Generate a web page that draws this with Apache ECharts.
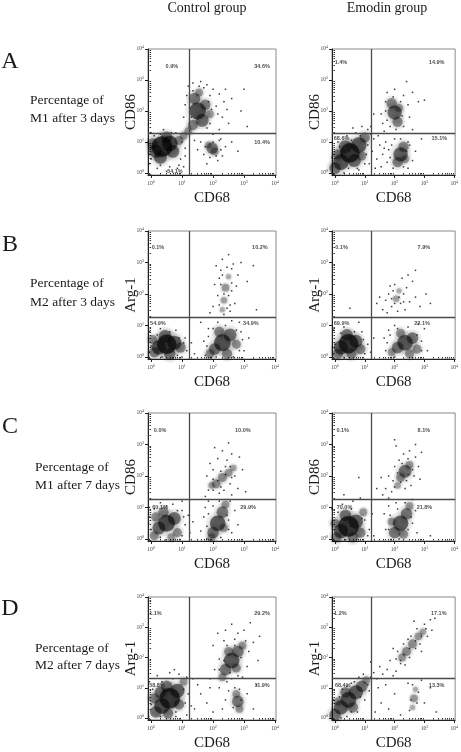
<!DOCTYPE html>
<html><head><meta charset="utf-8">
<script src="https://cdn.jsdelivr.net/npm/echarts@6/dist/echarts.min.js"></script>
<style>html,body{margin:0;padding:0;background:#fff}#c{width:461px;height:752px}</style>
</head><body><div id="c"></div>
<script>
// ---------- text ----------
const columnTitles = ['Control group', 'Emodin group'];
const rowLetters = ['A', 'B', 'C', 'D'];
const rowCaptions = [
  ['Percentage of', 'M1 after 3 days'],
  ['Percentage of', 'M2 after 3 days'],
  ['Percentage of', 'M1 after 7 days'],
  ['Percentage of', 'M2 after 7 days']
];
const yMarkers = ['CD86', 'Arg-1', 'CD86', 'Arg-1'];
const xMarker = 'CD68';
const tickExponents = [0, 1, 2, 3, 4];

// ---------- gates (log10 fluorescence) ----------
const gateX = [1.22, 1.22, 1.22, 1.22];
const gateY = [1.29, 1.25, 1.27, 1.30];

// ---------- quadrant percentages: UL, UR, LL, LR ----------
const ctrlA_pct = ['0.9%', '34.6%', '54.1%', '10.4%'];
const emoA_pct  = ['1.4%', '14.9%', '68.6%', '15.1%'];
const ctrlB_pct = ['0.1%', '10.2%', '54.9%', '34.9%'];
const emoB_pct  = ['0.1%', '7.9%', '69.9%', '22.1%'];
const ctrlC_pct = ['0.0%', '10.0%', '60.1%', '29.9%'];
const emoC_pct  = ['0.1%', '8.1%', '70.0%', '21.8%'];
const ctrlD_pct = ['1.1%', '29.2%', '58.8%', '11.9%'];
const emoD_pct  = ['1.2%', '17.1%', '68.4%', '13.3%'];

// ---------- events (log10 CD68, log10 marker[, density weight]) ----------
const ctrlA_core = [[0.35,0.85,16],[0.15,0.7,10],[0.6,0.95,12],[0.3,0.5,10],[0.7,0.7,10],[0.5,1.15,9],[0.05,0.95,8],[0.9,1.05,7],
  [1.05,1.2,6],[1.2,1.35,6],
  [1.5,2.0,13],[1.4,2.4,9],[1.65,1.7,10],[1.35,1.55,8],[1.75,2.2,8],[1.55,2.6,6],[1.9,1.9,6],
  [1.97,0.8,9],[2.05,0.7,6],[1.85,0.9,5]];
const ctrlA_dots = [[1.2,2.8],[1.35,2.9],[1.6,2.95],[1.8,2.85],[2.0,2.7],[2.2,2.55],[2.35,2.3],[2.45,2.05],[2.3,1.8],[2.5,1.6],[2.2,1.4],[2.0,1.25],[1.1,2.2],[1.05,1.8],[1.15,2.5],[1.9,2.5],[2.1,2.15],[1.7,2.75],[2.6,2.4],[2.4,2.7],
  [1.6,1.0],[1.7,0.6],[2.2,1.05],[2.3,0.55],[2.15,0.4],[1.8,0.3],[2.4,0.85],[2.6,1.0],[1.5,0.75],[1.4,1.05],
  [-0.05,0.3],[0.0,1.3],[0.2,0.15],[0.6,0.2],[0.95,0.45],[1.1,0.8],[0.8,1.3],[0.4,1.4],[-0.05,0.6],[1.05,0.2],[0.5,0.05],[0.85,0.15],
  [2.9,2.0],[3.1,1.5],[2.8,0.7],[3.0,2.7],
  [0.1,1.2],[0.3,1.25],[0.65,1.3],[1.0,1.0],[1.1,0.55],[0.9,0.25],[0.3,0.25],[0.0,0.45],[-0.07,0.8],[1.25,1.5],[1.3,1.8],[1.25,2.1],[1.35,2.65],[1.55,2.8],[1.85,2.3],[1.95,2.05],[1.9,1.6],[1.8,1.45],[2.15,1.9],[2.25,1.1],[2.25,0.75],[1.75,0.85],[1.9,0.5],[2.1,0.55],[2.0,1.0]];

const emoA_core = [[0.5,0.65,15],[0.2,0.35,12],[0.8,0.9,12],[0.0,0.15,9],[1.0,1.15,8],[0.35,0.85,10],[0.65,0.4,10],[0.1,0.6,8],[0.9,0.55,7],
  [2.0,1.95,11],[1.9,2.25,8],[2.1,1.65,8],[2.15,2.1,6],
  [2.2,0.6,11],[2.3,0.85,8],[2.1,0.35,8],[2.35,0.45,6]];
const emoA_dots = [[1.15,0.3],[1.25,0.7],[1.3,1.1],[1.4,0.45],[1.5,0.9],[1.55,0.2],[1.6,0.6],[1.7,1.0],[1.75,0.35],[1.35,0.15],[1.2,1.25],[1.45,1.2],[1.65,1.35],[1.8,0.75],
  [1.6,1.6],[1.7,2.3],[1.75,2.6],[2.3,2.5],[2.45,2.2],[2.5,1.8],[1.55,1.9],[1.85,1.5],[2.3,1.5],[2.6,2.6],[2.8,2.3],[3.0,2.35],[2.6,1.4],[1.3,1.9],[1.2,1.5],[2.0,2.7],[2.4,2.95],
  [2.5,0.9],[2.6,0.4],[2.45,0.15],[1.95,0.15],[2.7,0.7],[2.9,1.1],[2.0,1.1],
  [-0.1,0.5],[0.1,1.0],[0.4,1.2],[0.7,1.3],[1.0,0.3],[0.8,0.1],[-0.05,-0.02],[0.3,0.0],[1.1,1.4],[0.9,1.5],[0.6,1.45],
  [-0.08,0.2],[0.15,0.85],[0.55,1.05],[0.85,1.2],[1.1,0.9],[1.05,0.6],[0.75,0.15],[0.45,0.15],[1.7,2.0],[1.75,1.7],[2.25,1.85],[2.2,2.3],[1.95,2.45],[2.05,1.4],[1.85,0.5],[1.9,0.9],[2.4,0.7],[2.45,1.0],[2.2,1.1],[2.3,0.2],[1.65,0.8]];

const ctrlB_core = [[0.5,0.4,15],[0.25,0.3,11],[0.75,0.45,11],[0.45,0.65,10],[0.1,0.15,8],[0.95,0.3,8],[0.6,0.1,9],[0.05,0.55,7],
  [2.3,0.45,13],[2.05,0.25,9],[2.55,0.7,10],[2.2,0.8,8],[2.75,0.4,7],[1.9,0.1,7],[2.45,0.1,8],
  [2.4,2.2,6],[2.35,1.8,5],[2.5,2.55,4],[2.3,1.5,4]];
const ctrlB_dots = [[2.1,2.9],[2.3,3.1],[2.5,3.25],[2.65,2.95],[2.8,2.6],[2.2,2.5],[2.6,2.1],[2.15,1.95],[2.7,1.7],[2.55,1.45],[2.0,1.6],[2.25,2.75],[2.45,2.85],[2.9,3.0],[3.1,2.4],[2.05,2.3],[2.6,2.35],[2.75,2.25],[2.35,1.35],[2.5,1.95],[2.2,1.65],
  [1.7,0.5],[1.75,0.05],[2.9,0.8],[3.0,0.2],[3.15,0.6],[2.85,1.1],[2.6,1.15],[1.85,0.9],[2.95,0.55],[2.15,1.1],
  [-0.05,0.8],[0.3,0.9],[0.8,0.85],[1.1,0.6],[1.15,0.2],[1.3,0.45],[1.0,0.0],[-0.08,0.0],[0.7,-0.03],[1.4,0.1],
  [1.6,1.1],[3.3,2.9],[3.4,1.5],[1.9,1.4],
  [0.0,0.35],[0.2,0.7],[0.6,0.8],[0.9,0.6],[1.05,0.45],[0.85,0.05],[0.35,0.0],[-0.05,0.15],[1.8,0.35],[1.85,0.65],[2.0,0.9],[2.4,1.0],[2.75,0.85],[2.85,0.2],[2.65,0.0],[2.1,0.0],[2.35,2.0],[2.25,2.3],[2.55,1.65],[2.45,1.55],[2.3,2.6],[2.6,2.8]];

const emoB_core = [[0.45,0.42,15],[0.2,0.3,11],[0.7,0.5,10],[0.4,0.7,9],[0.1,0.1,8],[0.85,0.25,8],[0.55,0.1,8],
  [2.35,0.45,12],[2.1,0.3,9],[2.6,0.6,9],[2.2,0.75,7],[2.75,0.25,7],[1.9,0.15,6],[2.5,0.1,7],
  [2.05,1.85,5],[2.15,2.1,4]];
const emoB_dots = [[1.6,1.5],[1.7,1.8],[1.8,2.0],[1.9,1.6],[2.0,2.3],[2.2,1.7],[2.3,2.0],[2.4,2.2],[2.5,1.75],[2.6,2.4],[2.7,1.9],[1.85,2.25],[2.25,2.5],[2.45,2.6],[1.75,1.4],[2.1,1.45],[2.35,1.5],[2.85,1.6],[3.05,2.0],[3.2,1.7],[1.5,1.9],[1.95,2.1],
  [1.65,0.6],[1.7,0.2],[2.0,1.0],[2.9,0.5],[3.0,0.9],[3.1,0.2],[2.8,1.05],[1.8,0.85],
  [-0.05,0.85],[0.3,0.95],[0.9,0.8],[1.1,0.4],[1.2,0.15],[0.8,1.1],[-0.08,0.3],[1.3,0.6],
  [1.4,1.7],[0.5,1.55],[2.7,2.75],
  [0.0,0.4],[0.2,0.75],[0.65,0.8],[0.95,0.55],[1.0,0.1],[0.3,-0.02],[-0.05,0.1],[1.75,0.45],[1.85,0.7],[2.1,0.9],[2.45,0.95],[2.75,0.7],[2.9,0.2],[2.6,-0.02],[2.0,0.0],[2.0,1.7],[2.15,1.9],[1.9,1.85],[2.3,1.75]];

const ctrlC_core = [[0.5,0.5,13],[0.25,0.35,10],[0.75,0.65,10],[0.4,0.85,8],[0.1,0.1,7],[0.85,0.2,7],[0.15,0.7,7],[0.65,0.05,6],
  [2.15,0.5,12],[2.0,0.2,9],[2.3,0.85,9],[2.4,1.1,6],[1.95,0.05,6],[2.35,0.35,6],
  [2.1,1.75,7],[2.3,1.95,7],[2.5,2.1,6],[2.65,2.25,5],[1.95,1.7,5]];
const ctrlC_dots = [[1.8,2.0],[1.9,2.4],[2.0,2.2],[2.15,2.55],[2.3,2.8],[2.45,2.5],[2.6,2.7],[2.7,2.0],[2.55,1.75],[2.35,1.55],[2.2,1.45],[1.85,1.55],[2.05,2.9],[2.5,3.05],[2.8,1.6],[2.95,2.2],[3.05,1.5],[2.4,2.3],[1.75,1.35],[2.0,1.9],[2.25,2.15],[2.6,1.4],[2.85,2.6],
  [1.7,0.7],[1.75,1.0],[2.5,0.6],[2.6,0.2],[2.7,0.9],[1.85,1.2],[2.55,1.2],[2.8,0.45],[1.6,0.25],
  [-0.05,1.0],[0.3,1.15],[0.7,1.1],[1.0,0.9],[1.1,0.45],[1.25,0.2],[1.2,0.75],[0.45,-0.03],[-0.08,0.5],[1.35,0.55],[1.0,1.2],
  [0.0,0.3],[0.1,0.95],[0.5,1.05],[0.85,0.9],[1.05,0.7],[1.0,0.1],[0.3,0.05],[-0.05,0.7],[1.8,0.4],[1.85,0.8],[2.0,1.05],[2.2,1.2],[2.45,0.75],[2.5,0.3],[2.25,0.05],[1.8,0.0],[2.15,1.85],[2.25,1.65],[2.4,2.05],[2.0,1.55],[2.55,2.3],[2.6,1.95]];

const emoC_core = [[0.45,0.4,16],[0.2,0.25,11],[0.7,0.55,11],[0.35,0.75,9],[0.05,0.05,8],[0.85,0.2,8],[0.6,0.05,8],[0.0,0.5,7],[0.95,0.85,6],
  [2.2,0.5,12],[2.0,0.2,9],[2.4,0.8,9],[2.5,1.05,6],[2.3,0.15,7],[1.9,0.55,6],
  [2.35,2.15,10],[2.2,1.95,7],[2.5,2.35,6],[2.1,1.7,5]];
const emoC_dots = [[1.7,1.6],[1.8,2.0],[1.9,1.5],[2.0,2.3],[2.15,2.5],[2.3,2.7],[2.5,2.8],[2.7,2.6],[2.8,2.3],[2.65,2.0],[2.55,1.7],[2.35,1.6],[2.85,1.9],[1.95,1.85],[2.1,2.1],[2.45,2.55],[2.7,3.0],[2.9,2.75],[1.55,1.95],[1.6,1.4],[2.05,2.95],[1.8,1.3],
  [1.65,0.8],[1.7,0.3],[2.6,0.5],[2.7,0.9],[2.75,0.2],[2.05,1.15],[2.6,1.25],[1.8,1.05],[3.2,0.1],
  [-0.1,0.95],[0.25,1.1],[0.6,1.2],[1.0,0.6],[1.15,0.3],[1.25,0.8],[1.3,0.1],[0.85,1.3],[0.3,1.4],
  [0.8,1.95],[2.0,3.15],[1.4,1.6],
  [-0.08,0.3],[0.1,0.85],[0.55,0.95],[0.9,0.65],[1.1,0.1],[0.35,-0.02],[1.8,0.3],[1.85,0.75],[2.1,0.95],[2.35,1.15],[2.55,0.7],[2.45,0.3],[2.15,0.0],[2.25,2.4],[2.45,2.05],[2.2,1.8],[2.4,1.85],[2.6,2.2],[2.0,1.65]];

const ctrlD_core = [[0.6,0.65,16],[0.35,0.4,12],[0.85,0.9,11],[0.5,1.05,9],[0.15,0.2,9],[0.9,0.45,8],[0.1,0.65,8],[1.05,1.2,6],[0.55,0.15,8],[0.3,0.85,9],
  [2.8,0.55,9],[2.75,0.8,6],[2.85,0.3,6],
  [2.6,1.9,12],[2.4,1.6,9],[2.8,2.2,9],[2.5,2.2,7],[2.75,1.65,7],[2.3,1.35,6],[2.95,2.4,6]];
const ctrlD_dots = [[2.0,2.4],[2.15,2.8],[2.4,2.9],[2.6,3.1],[2.8,2.8],[3.0,2.9],[3.15,2.2],[3.3,2.5],[3.1,1.7],[2.95,1.35],[2.6,1.3],[2.2,1.95],[2.05,1.6],[2.35,2.55],[2.7,2.6],[3.2,3.15],[3.45,1.9],[3.5,2.7],[1.9,1.3],[2.45,1.2],
  [1.4,0.3],[1.6,0.8],[1.8,0.5],[2.0,0.2],[2.2,1.0],[2.4,0.6],[1.5,1.1],[1.9,1.0],[2.3,0.3],[3.1,0.8],[3.3,0.3],[3.4,1.1],[2.5,0.9],
  [-0.05,1.2],[0.2,1.4],[0.6,1.5],[0.9,1.45],[1.2,0.8],[1.3,0.4],[1.15,0.1],[-0.08,0.05],[0.8,0.05],[1.35,1.3],[0.75,1.6],
  [0.0,0.45],[0.05,0.95],[0.35,1.2],[0.7,1.3],[1.05,0.95],[1.1,0.5],[0.8,0.2],[0.3,0.05],[1.15,1.35],[2.65,0.35],[2.9,0.6],[2.7,1.0],[2.85,0.95],[2.2,1.6],[2.35,1.9],[2.55,1.5],[2.9,2.0],[2.7,2.4],[3.05,2.55],[2.45,2.4],[2.8,1.4]];

const emoD_core = [[0.45,0.6,12],[0.2,0.35,11],[0.0,0.1,9],[0.7,0.85,11],[0.9,1.05,9],[0.35,0.85,8],[0.6,0.35,8],[1.05,1.25,6],[0.1,0.55,6],
  [2.6,2.45,7],[2.4,2.2,7],[2.8,2.7,6],[2.25,2.0,6],[2.95,2.85,5],
  [2.65,0.65,6],[2.7,0.95,4],[2.6,0.35,4]];
const emoD_dots = [[2.1,2.2],[2.2,1.8],[2.3,2.45],[2.5,2.0],[2.55,2.7],[2.7,2.3],[2.85,2.45],[2.75,2.95],[3.0,3.1],[3.1,2.7],[3.2,3.25],[2.45,2.6],[2.05,1.95],[2.35,1.75],[2.9,2.2],[3.25,2.9],[3.35,3.3],[2.65,3.2],[1.95,2.3],
  [1.3,1.5],[1.4,1.3],[1.5,1.7],[1.6,1.45],[1.75,1.6],[1.85,1.9],[1.45,1.0],[1.7,1.1],[1.95,1.4],[2.05,1.55],[1.2,1.85],[1.55,0.5],[1.8,0.3],[2.0,0.8],[2.2,0.1],[3.0,0.5],[3.2,1.0],[2.9,1.25],[3.4,0.2],[2.45,1.15],[1.35,0.2],
  [-0.05,0.6],[0.25,0.95],[0.55,1.15],[0.8,1.35],[1.0,0.6],[0.75,0.2],[1.15,0.9],[0.4,0.05],[0.95,1.45],
  [-0.08,0.3],[0.15,0.7],[0.4,1.05],[0.65,1.2],[0.85,0.7],[1.1,1.1],[0.55,0.2],[0.2,0.0],[1.2,1.35],[2.55,0.6],[2.75,0.5],[2.6,1.1],[2.8,0.85],[2.5,0.25],[2.3,2.1],[2.5,2.3],[2.7,2.55],[2.9,2.7],[2.2,1.9],[3.05,2.95]];

// ---------- layout (positions / styles only) ----------
const L = {
  colLeft: [148, 332], colWidth: [128, 127],
  rowTop: [49, 231, 413, 597], rowHeight: [126, 128, 128, 128],
  xRange: [-0.1, 4.03], yRange: [-0.065, 4],
  colTitleX: [207, 387], colTitleY: 8,
  letterX: 10, letterY: [62, 245, 427, 609],
  captionX: [30, 30, 35, 35], captionY: [[100, 118], [283, 302], [467, 485], [648, 665]],
  quadPos: [
    [[0.67,3.45],[3.58,3.45],[0.77,0.06],[3.58,0.97]],
    [[0.2,3.55],[3.41,3.55],[0.22,1.1],[3.5,1.1]],
    [[0.22,3.49],[3.51,3.49],[0.22,1.05],[3.22,1.05]],
    [[0.22,3.49],[2.98,3.49],[0.22,1.05],[2.92,1.05]],
    [[0.29,3.46],[2.96,3.46],[0.29,1.0],[3.13,1.0]],
    [[0.26,3.46],[2.98,3.46],[0.32,1.0],[3.0,1.0]],
    [[0.14,3.46],[3.58,3.46],[0.19,1.08],[3.58,1.08]],
    [[0.18,3.46],[3.48,3.46],[0.26,1.08],[3.41,1.08]]
  ]
};
const SERIF = '"Liberation Serif","DejaVu Serif",serif';

const plots = [
  {r:0,c:0,core:ctrlA_core,dots:ctrlA_dots,pct:ctrlA_pct},
  {r:0,c:1,core:emoA_core,dots:emoA_dots,pct:emoA_pct},
  {r:1,c:0,core:ctrlB_core,dots:ctrlB_dots,pct:ctrlB_pct},
  {r:1,c:1,core:emoB_core,dots:emoB_dots,pct:emoB_pct},
  {r:2,c:0,core:ctrlC_core,dots:ctrlC_dots,pct:ctrlC_pct},
  {r:2,c:1,core:emoC_core,dots:emoC_dots,pct:emoC_pct},
  {r:3,c:0,core:ctrlD_core,dots:ctrlD_dots,pct:ctrlD_pct},
  {r:3,c:1,core:emoD_core,dots:emoD_dots,pct:emoD_pct}
];

const minorTicks = [];
for (let d = -1; d < 4; d++) for (let k = 2; k <= 9; k++) {
  const v = d + Math.log10(k);
  if (v > L.xRange[0] && v < 4) minorTicks.push(v);
}
const labelRich = {
  b: {fontSize: 5.5, color: '#444', fontFamily: SERIF},
  s: {fontSize: 4, color: '#444', fontFamily: SERIF, verticalAlign: 'top', padding: [0, 0, 4, 0]}
};
const fmt = v => '{b|10}{s|' + Math.round(v) + '}';
// darker for denser populations
const coreColor = p => 'rgba(0,0,0,' + Math.min(0.8, 0.1 + p.value[2] * 0.045).toFixed(3) + ')';

const grid = [], xAxis = [], yAxis = [], series = [];
plots.forEach((p, i) => {
  grid.push({left: L.colLeft[p.c], width: L.colWidth[p.c], top: L.rowTop[p.r], height: L.rowHeight[p.r],
    show: true, borderColor: '#8a8a8a', borderWidth: 1, containLabel: false});
  xAxis.push({type: 'value', gridIndex: i, min: L.xRange[0], max: L.xRange[1],
    splitLine: {show: false},
    axisLine: {show: true, onZero: false, lineStyle: {color: '#222', width: 1}},
    axisTick: {show: true, customValues: tickExponents, length: 3, lineStyle: {color: '#222'}},
    axisLabel: {show: true, customValues: tickExponents, formatter: fmt, rich: labelRich, margin: 5},
    name: xMarker, nameLocation: 'middle', nameGap: 16,
    nameTextStyle: {fontFamily: SERIF, fontSize: 15, color: '#1a1a1a'}});
  yAxis.push({type: 'value', gridIndex: i, min: L.yRange[0], max: L.yRange[1],
    splitLine: {show: false},
    axisLine: {show: true, onZero: false, lineStyle: {color: '#222', width: 1}},
    axisTick: {show: true, customValues: tickExponents, length: 3, lineStyle: {color: '#222'}},
    axisLabel: {show: true, customValues: tickExponents, formatter: fmt, rich: labelRich, margin: 4},
    name: yMarkers[p.r], nameLocation: 'middle', nameGap: 9, nameMoveOverlap: false,
    nameTextStyle: {fontFamily: SERIF, fontSize: 15, color: '#1a1a1a'}});
  xAxis.push({type: 'value', gridIndex: i, min: L.xRange[0], max: L.xRange[1], position: 'bottom',
    splitLine: {show: false}, axisLine: {show: false},
    axisTick: {show: true, customValues: minorTicks, length: 1.5, lineStyle: {color: '#333'}},
    axisLabel: {show: false}});
  yAxis.push({type: 'value', gridIndex: i, min: L.yRange[0], max: L.yRange[1], position: 'left',
    splitLine: {show: false}, axisLine: {show: false},
    axisTick: {show: true, customValues: minorTicks.filter(v => v > L.yRange[0]), length: 1.5, lineStyle: {color: '#333'}},
    axisLabel: {show: false}});
  const xi = 2 * i, yi = 2 * i;
  series.push({type: 'scatter', xAxisIndex: xi, yAxisIndex: yi, data: p.core, silent: true,
    symbolSize: v => v[2] * 2.0,
    itemStyle: {color: 'rgba(0,0,0,0.07)', shadowBlur: 7, shadowColor: 'rgba(0,0,0,0.25)'}});
  series.push({type: 'scatter', xAxisIndex: xi, yAxisIndex: yi, data: p.core, silent: true,
    symbolSize: v => v[2] * 1.3,
    itemStyle: {color: coreColor, shadowBlur: 3, shadowColor: 'rgba(0,0,0,0.45)'}});
  series.push({type: 'scatter', xAxisIndex: xi, yAxisIndex: yi, data: p.dots, silent: true,
    symbol: 'rect', symbolSize: 1.5, itemStyle: {color: '#1a1a1a', opacity: 0.85},
    markLine: {silent: true, symbol: 'none', animation: false, label: {show: false},
      lineStyle: {color: '#4a4a4a', width: 1.3, type: 'solid'},
      data: [{xAxis: gateX[p.r]}, {yAxis: gateY[p.r]}]}});
  series.push({type: 'scatter', xAxisIndex: xi, yAxisIndex: yi, silent: true, symbolSize: 0,
    data: L.quadPos[i].map((q, k) => [q[0], q[1], p.pct[k]]),
    label: {show: true, position: 'inside', formatter: d => d.value[2],
      fontSize: 5.5, fontWeight: 'bold', color: '#222', fontFamily: 'Arial, "Liberation Sans", sans-serif'}});
});

const graphic = [];
columnTitles.forEach((t, c) => graphic.push({type: 'text', x: L.colTitleX[c], y: L.colTitleY,
  style: {text: t, font: '14px ' + SERIF, fill: '#1a1a1a', textAlign: 'center', textVerticalAlign: 'middle'}}));
rowLetters.forEach((t, r) => {
  graphic.push({type: 'text', x: L.letterX, y: L.letterY[r],
    style: {text: t, font: '24px ' + SERIF, fill: '#1a1a1a', textAlign: 'center', textVerticalAlign: 'middle'}});
  rowCaptions[r].forEach((line, k) => graphic.push({type: 'text', x: L.captionX[r], y: L.captionY[r][k],
    style: {text: line, font: '13.5px ' + SERIF, fill: '#1a1a1a', textAlign: 'left', textVerticalAlign: 'middle'}}));
});

const chart = echarts.init(document.getElementById('c'), null, {renderer: 'canvas'});
chart.setOption({animation: false, backgroundColor: '#fff', grid, xAxis, yAxis, series, graphic});
</script></body></html>
